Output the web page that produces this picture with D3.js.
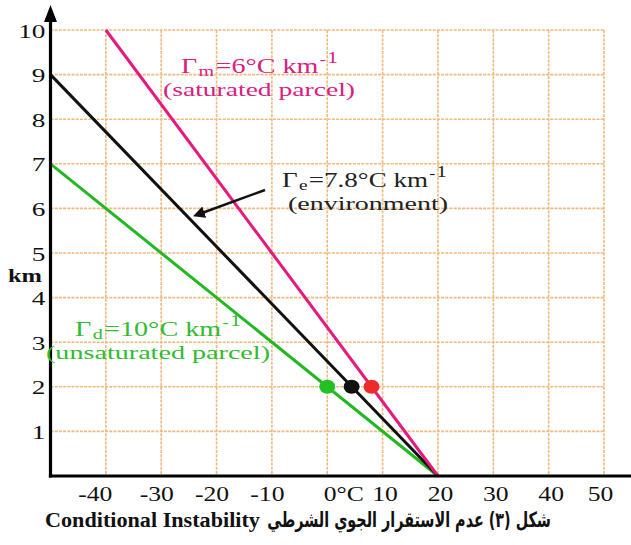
<!DOCTYPE html>
<html>
<head>
<meta charset="utf-8">
<script src="https://cdn.jsdelivr.net/npm/d3@7"></script>
<style>
  html,body{margin:0;padding:0;background:#fff;}
  svg{display:block;}
</style>
</head>
<body>
<svg id="chart" width="631" height="545"></svg>
<script>
// ---------- data ----------
const tempTicks   = [-40, -30, -20, -10, 0, 10, 20, 30, 40, 50];
const tempLabels  = ["-40", "-30", "-20", "-10", "0°C", "10", "20", "30", "40", "50"];
const heightTicks = [1, 2, 3, 4, 5, 6, 7, 8, 9, 10];
const heightLabels = ["1", "2", "3", "4", "5", "6", "7", "8", "9", "10"];

// lines: [temperature °C, height km]
const saturatedLine   = [[-40, 10], [20, 0]];   // Γm = 6 °C/km
const environmentLine = [[-50, 9],  [20, 0]];   // Γe = 7.8 °C/km
const unsaturatedLine = [[-50, 7],  [20, 0]];   // Γd = 10 °C/km

// parcel temperatures at 2 km
const dotTemps   = [0, 4.4, 8];
const dotHeights = [2, 2, 2];
const dotNames   = ["unsaturated", "environment", "saturated"];

const yAxisTitle = "km";
const captionEn = "Conditional Instability";
const captionAr = "شكل (٣) عدم الاستقرار الجوي الشرطي";

// ---------- setup ----------
const svg = d3.select("#chart");
const x = d3.scaleLinear().domain([-50, 50]).range([50.5, 604]);
const y = d3.scaleLinear().domain([0, 10]).range([476, 30]);
const SERIF = "'Liberation Serif', 'Times New Roman', serif";

const colors = {
  saturated: "#e5197e",
  environment: "#111111",
  unsaturated: "#22b822"
};
const dotColors = { unsaturated: "#22c022", environment: "#111111", saturated: "#ee2b2b" };
const textColors = { saturated: "#d92080", environment: "#222222", unsaturated: "#30bb30" };

function fit(sel, tx, ty, targetW) {
  const w = sel.node().getBBox().width;
  const sx = targetW / w;
  sel.attr("transform", `translate(${tx},${ty}) scale(${sx},1)`);
}

// ---------- grid ----------
const grid = svg.append("g").attr("stroke", "#f1b97c").attr("stroke-width", 1.6)
  .attr("stroke-dasharray", "3,1.2").attr("fill", "none");
grid.selectAll("line.h").data(heightTicks).join("line").attr("class", "h")
  .attr("x1", x(-50)).attr("x2", x(50))
  .attr("y1", d => y(d)).attr("y2", d => y(d));
grid.selectAll("line.v").data(tempTicks).join("line").attr("class", "v")
  .attr("x1", d => x(d)).attr("x2", d => x(d))
  .attr("y1", y(10)).attr("y2", y(0));

// ---------- lines ----------
const line = d3.line().x(d => x(d[0])).y(d => y(d[1]));
const series = [
  { key: "unsaturated", pts: unsaturatedLine },
  { key: "environment", pts: environmentLine },
  { key: "saturated", pts: saturatedLine }
];
svg.append("g").selectAll("path").data(series).join("path")
  .attr("d", d => line(d.pts))
  .attr("fill", "none")
  .attr("stroke", d => colors[d.key])
  .attr("stroke-width", 3);

svg.append("g").selectAll("ellipse").data(dotTemps).join("ellipse")
  .attr("cx", (d, i) => x(d))
  .attr("cy", (d, i) => y(dotHeights[i]))
  .attr("rx", 8).attr("ry", 7)
  .attr("fill", (d, i) => dotColors[dotNames[i]]);

// ---------- axes ----------
svg.append("line").attr("x1", x(-50)).attr("x2", x(-50))
  .attr("y1", y(0) + 1.5).attr("y2", 16)
  .attr("stroke", "#000").attr("stroke-width", 3.2);
svg.append("path")
  .attr("d", `M${x(-50) - 6.5},22 L${x(-50)},5 L${x(-50) + 6.5},22 Z`)
  .attr("fill", "#000");
svg.append("line").attr("x1", x(-50) - 1.6).attr("x2", 631)
  .attr("y1", y(0)).attr("y2", y(0))
  .attr("stroke", "#000").attr("stroke-width", 3.2);

const yAxis = svg.append("g").attr("transform", `translate(${x(-50)},0)`)
  .call(d3.axisLeft(y).tickValues(heightTicks).tickSize(0).tickPadding(6)
    .tickFormat((d, i) => heightLabels[i]));
yAxis.select(".domain").remove();
yAxis.selectAll("text")
  .attr("font-family", SERIF).attr("font-size", 19.5).attr("fill", "#111")
  .attr("x", 0).attr("dy", "0.36em")
  .attr("transform", "translate(-5,0) scale(1.4,1)");

const xAxis = svg.append("g").attr("transform", `translate(0,${y(0)})`)
  .call(d3.axisBottom(x).tickValues(tempTicks).tickSize(0).tickPadding(10)
    .tickFormat((d, i) => tempLabels[i]));
xAxis.select(".domain").remove();
xAxis.selectAll("text")
  .attr("font-family", SERIF).attr("font-size", 20.5).attr("fill", "#111")
  .attr("x", 0)
  .attr("text-anchor", d => d === 0 ? "start" : "middle")
  .attr("transform", d => {
    const dx = d < 0 ? (d === -40 ? -11 : -5) : d === 0 ? -4 : d === 50 ? -4 : 2;
    return `translate(${dx},0) scale(1.25,1)`;
  });

const km = svg.append("text").attr("font-family", SERIF).attr("font-size", 18)
  .attr("font-weight", "bold").attr("fill", "#111").text(yAxisTitle);
fit(km, 8, 282, 34);

// ---------- annotations (two-line labels in one text element) ----------
function annotation(sub, rest, line2, color, tx, ty, w1, tx2, ty2, w2) {
  const t = svg.append("text").attr("font-family", SERIF).attr("font-size", 21).attr("fill", color);
  t.append("tspan").text("Γ");
  t.append("tspan").attr("font-size", 15).attr("dx", 1).attr("dy", 2.5).text(sub);
  t.append("tspan").attr("dx", 1).attr("dy", -2.5).text(rest);
  t.append("tspan").attr("font-size", 14).attr("dx", 1).attr("dy", -9).text("-");
  t.append("tspan").attr("font-size", 16).attr("dx", 1).attr("dy", -1).text("1");
  const w = t.node().getBBox().width;
  const sx = w1 / w;
  t.attr("transform", `translate(${tx},${ty}) scale(${sx},1)`);
  const s2 = t.append("tspan").attr("font-size", 19)
    .attr("x", (tx2 - tx) / sx).attr("y", ty2 - ty).text(line2);
  s2.attr("textLength", w2 / sx).attr("lengthAdjust", "spacingAndGlyphs");
}
annotation("m", "=6°C km", "(saturated parcel)", textColors.saturated, 181, 73, 157, 163, 96, 192);
annotation("e", "=7.8°C km", "(environment)", textColors.environment, 282, 187, 165, 288, 210, 160);
annotation("d", "=10°C km", "(unsaturated parcel)", textColors.unsaturated, 75, 336, 166, 46, 359, 224);

// arrow to environment line
svg.append("defs").append("marker").attr("id", "ah")
  .attr("viewBox", "0 0 10 10").attr("refX", 2).attr("refY", 5)
  .attr("markerWidth", 5).attr("markerHeight", 5).attr("orient", "auto")
  .append("path").attr("d", "M0,0 L10,5 L0,10 Z").attr("fill", "#111");
svg.append("line").attr("x1", 265).attr("y1", 190).attr("x2", 202).attr("y2", 213)
  .attr("stroke", "#111").attr("stroke-width", 2.4).attr("marker-end", "url(#ah)");

// ---------- caption ----------
const capEn = svg.append("text").attr("font-family", SERIF).attr("font-size", 20)
  .attr("font-weight", "bold").attr("fill", "#111").text(captionEn);
fit(capEn, 45, 527, 215);
const capAr = svg.append("text").attr("font-family", "'DejaVu Sans', serif")
  .attr("font-size", 21).attr("font-weight", "bold").attr("fill", "#111")
  .attr("direction", "rtl").attr("text-anchor", "start")
  .text(captionAr);
(function () {
  const w = capAr.node().getBBox().width;
  const sx = 284 / w;
  capAr.attr("transform", `translate(551,527) scale(${sx},1)`);
})();
</script>
</body>
</html>
